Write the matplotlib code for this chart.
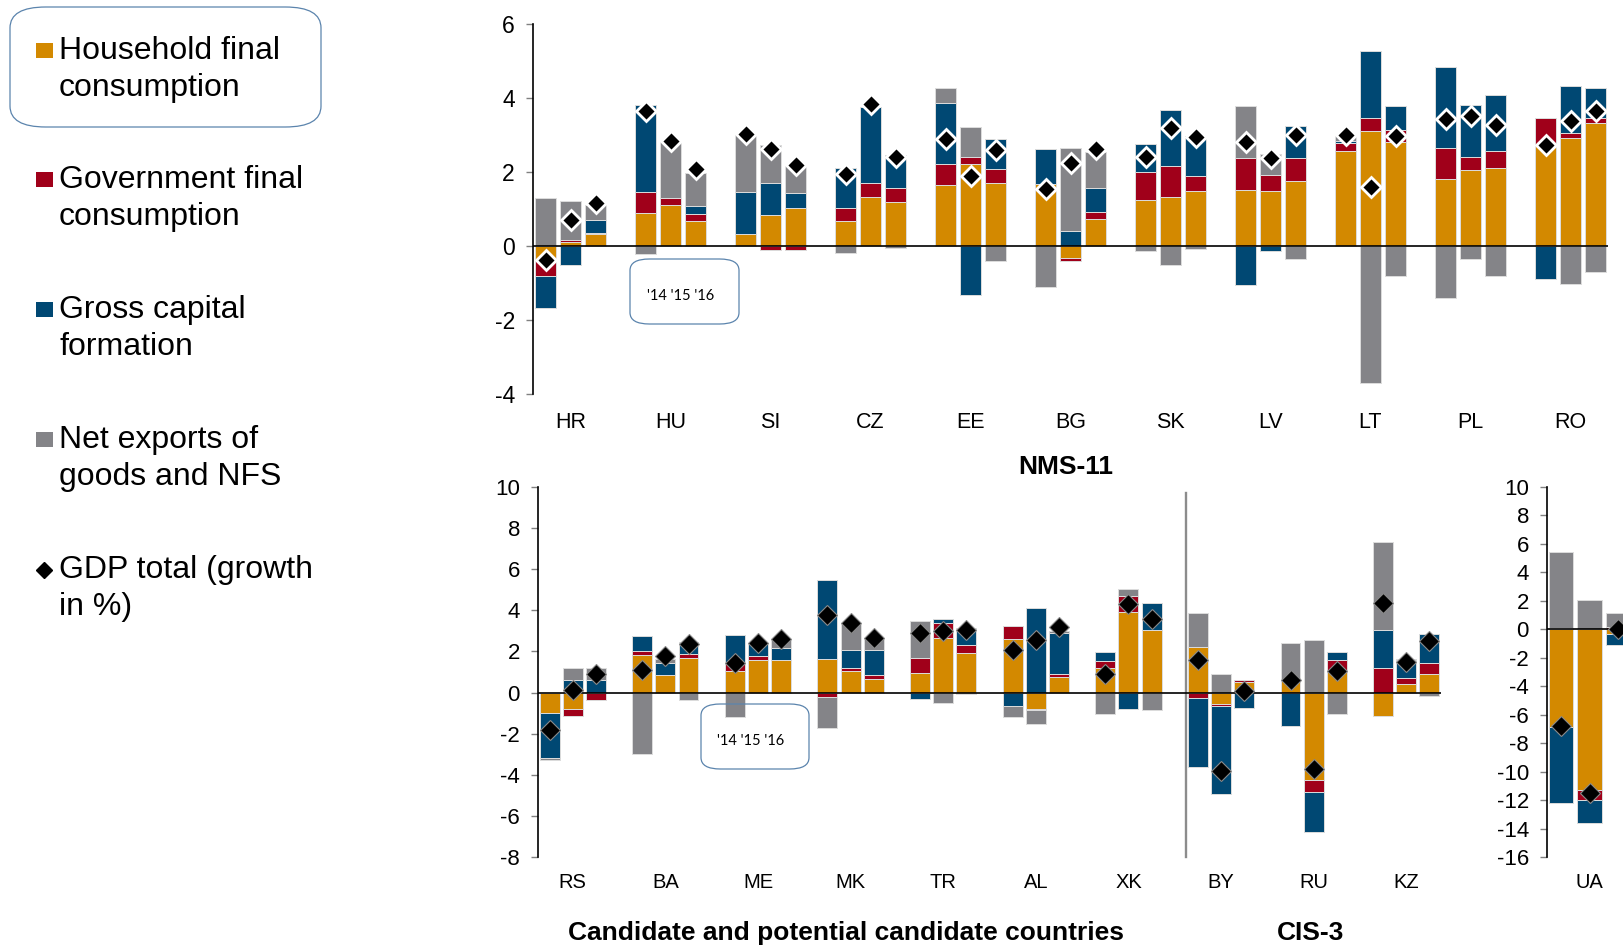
"""Contributions to GDP growth, 2014-2016: NMS-11, candidate countries and CIS-3."""

import matplotlib

matplotlib.use("Agg")
import matplotlib.pyplot as plt  # noqa: E402
import numpy as np  # noqa: E402
from matplotlib.lines import Line2D  # noqa: E402
from matplotlib.patches import FancyBboxPatch, Rectangle  # noqa: E402
from matplotlib.transforms import blended_transform_factory  # noqa: E402

plt.rcParams["font.family"] = ["Liberation Sans", "DejaVu Sans"]
plt.rcParams["axes.unicode_minus"] = False

W, H = 1623, 947

# ---- data: one [2014, 2015, 2016] triple per country ----
nms_countries = ["HR", "HU", "SI", "CZ", "EE", "BG", "SK", "LV", "LT", "PL", "RO"]
nms_household = [[-0.40, 0.11, 0.33], [0.89, 1.11, 0.67], [0.33, 0.83, 1.04], [0.68, 1.32, 1.19],
                 [1.65, 2.21, 1.71], [1.68, -0.32, 0.74], [1.23, 1.32, 1.49], [1.51, 1.48, 1.77],
                 [2.58, 3.12, 2.80], [1.80, 2.06, 2.12], [2.77, 2.92, 3.33]]
nms_government = [[-0.41, 0.05, 0.02], [0.57, 0.19, 0.20], [0.00, -0.11, -0.11], [0.35, 0.39, 0.38],
                  [0.57, 0.19, 0.38], [0.00, -0.08, 0.19], [0.77, 0.85, 0.41], [0.86, 0.43, 0.61],
                  [0.21, 0.33, 0.33], [0.86, 0.35, 0.46], [0.70, 0.13, 0.14]]
nms_capital = [[-0.87, -0.52, 0.36], [2.34, 0.00, 0.22], [1.12, 0.87, 0.39], [1.08, 2.04, 0.89],
               [1.64, -1.33, 0.80], [0.94, 0.41, 0.63], [0.77, 1.50, 1.06], [-1.06, -0.13, 0.87],
               [0.06, 1.83, 0.65], [2.17, 1.41, 1.50], [-0.88, 1.28, 0.81]]
nms_netexp = [[1.30, 1.06, 0.40], [-0.22, 1.52, 0.89], [1.57, 1.02, 0.77], [-0.20, 0.00, -0.05],
              [0.41, 0.81, -0.41], [-1.12, 2.24, 0.97], [-0.14, -0.51, -0.08], [1.41, 0.58, -0.34],
              [0.16, -3.71, -0.81], [-1.41, -0.36, -0.82], [0.00, -1.03, -0.69]]
nms_gdp = [[-0.38, 0.69, 1.15], [3.65, 2.84, 2.07], [3.02, 2.63, 2.18], [1.95, 3.84, 2.41],
           [2.90, 1.88, 2.59], [1.53, 2.24, 2.62], [2.40, 3.19, 2.95], [2.82, 2.39, 2.99],
           [3.01, 1.59, 2.96], [3.42, 3.51, 3.28], [2.74, 3.38, 3.66]]

cc_countries = ["RS", "BA", "ME", "MK", "TR", "AL", "XK", "BY", "RU", "KZ"]
cc_household = [[-1.00, -0.78, 0.00], [1.82, 0.83, 1.67], [1.07, 1.57, 1.57], [1.65, 1.05, 0.68],
                [0.97, 2.67, 1.94], [2.61, -0.79, 0.78], [1.18, 3.92, 3.05], [2.20, -0.55, 0.49],
                [0.62, -4.26, 1.00], [-1.13, 0.44, 0.92]]
cc_government = [[0.00, -0.34, -0.36], [0.18, 0.00, 0.23], [0.37, 0.19, 0.00], [-0.21, 0.13, 0.15],
                 [0.70, 0.71, 0.39], [0.65, -0.06, 0.11], [0.34, 0.76, 0.00], [-0.28, -0.11, 0.13],
                 [0.00, -0.58, 0.60], [1.18, 0.26, 0.50]]
cc_capital = [[-2.19, 0.60, 0.60], [0.73, 0.60, 0.58], [1.36, 0.60, 0.60], [3.84, 0.91, 1.23],
              [-0.31, 0.21, 0.81], [-0.63, 4.10, 2.01], [0.45, -0.79, 1.31], [-3.32, -4.26, -0.75],
              [-1.62, -1.96, 0.37], [1.88, 0.88, 1.41]]
cc_netexp = [[-0.10, 0.58, 0.58], [-2.97, 0.21, -0.36], [-1.17, 0.05, 0.44], [-1.52, 1.26, 0.58],
             [1.80, -0.50, -0.06], [-0.55, -0.66, 0.08], [-1.02, 0.36, -0.86], [1.67, 0.89, 0.00],
             [1.80, 2.58, -1.04], [4.25, 0.03, -0.18]]
cc_gdp = [[-1.82, 0.10, 0.88], [1.10, 1.80, 2.37], [1.46, 2.40, 2.61], [3.76, 3.37, 2.66],
          [2.90, 2.98, 3.06], [2.07, 2.56, 3.19], [0.88, 4.30, 3.58], [1.60, -3.82, 0.08],
          [0.60, -3.70, 1.04], [4.38, 1.49, 2.51]]

ua_countries = ["UA"]
ua_household = [[-6.84, -11.31, -0.35]]
ua_government = [[0.12, -0.66, 0.16]]
ua_capital = [[-5.39, -1.62, -0.75]]
ua_netexp = [[5.32, 2.08, 1.01]]
ua_gdp = [[-6.81, -11.50, 0.05]]

legend_labels = ["Household final\nconsumption", "Government final\nconsumption",
                 "Gross capital\nformation", "Net exports of\ngoods and NFS",
                 "GDP total (growth\nin %)"]
COLORS = ["#D38900", "#A0001A", "#004873", "#848488"]
BOX_EDGE = "#5B84AD"


def fx(px):
    return px / W


def fy(py):
    return 1 - py / H


def axes_at(fig, left, top, right, bottom):
    return fig.add_axes([fx(left), fy(bottom), (right - left) / W, (bottom - top) / H])


def slot_positions(n_groups):
    return np.array([g * 4 + k for g in range(n_groups) for k in range(3)], float)


def draw_panel(ax, comps, gdp, labels, width, d_edge, d_mew, d_ms, ylim, label_y, fs, tick_fs):
    n = len(labels)
    x = slot_positions(n)
    pos = np.zeros(len(x))
    neg = np.zeros(len(x))
    for vals, col in zip(comps, COLORS):
        v = np.ravel(vals).astype(float)
        bottom = np.where(v >= 0, pos, neg)
        ax.bar(x, v, width, bottom=bottom, color=col, edgecolor="#dcdcdc",
               linewidth=0.7, zorder=2)
        pos += np.clip(v, 0, None)
        neg += np.clip(v, None, 0)
    ax.axhline(0, color="black", lw=1.2, zorder=3)
    ax.plot(x, np.ravel(gdp), "D", ms=d_ms, mfc="black", mec=d_edge, mew=d_mew,
            ls="none", zorder=4, clip_on=False)
    ax.set_xlim(-0.5, x[-1] + 0.5)
    ax.set_ylim(*ylim)
    for s in ("top", "right", "bottom"):
        ax.spines[s].set_visible(False)
    ax.spines["left"].set_linewidth(1.2)
    ax.set_xticks([])
    ax.tick_params(axis="y", length=5, width=1, color="#808080", pad=8, labelsize=tick_fs)
    ax.patch.set_alpha(0)
    tr = blended_transform_factory(ax.transData, ax.transAxes)
    for i, lab in enumerate(labels):
        ax.text(i * 4 + 1, label_y, lab, transform=tr, ha="center", va="center", fontsize=fs)


fig = plt.figure(figsize=(W / 100, H / 100), dpi=100)

# top panel: NMS-11
ax_t = axes_at(fig, 533, 24, 1608, 394)
draw_panel(ax_t, [nms_household, nms_government, nms_capital, nms_netexp], nms_gdp,
           nms_countries, 0.84, "white", 2.0, 10.5, (-4, 6), -(422 - 394) / 370, 15.5, 16.5)
ax_t.set_yticks(np.arange(-4, 7, 2))

# bottom panel: candidate countries and CIS
ax_b = axes_at(fig, 538, 487, 1441, 857)
draw_panel(ax_b, [cc_household, cc_government, cc_capital, cc_netexp], cc_gdp,
           cc_countries, 0.86, "#8a8a8a", 0.8, 10.5, (-8, 10), -(882 - 857) / 370, 14.5, 16)
ax_b.set_yticks(np.arange(-8, 11, 2))
ax_b.plot([27.5, 27.5], [-8, 9.7], color="#8c8c8c", lw=1.7, zorder=1, clip_on=False)

# UA panel (runs past the right edge, as in the source)
ax_u = axes_at(fig, 1547, 487, 1632, 857)
draw_panel(ax_u, [ua_household, ua_government, ua_capital, ua_netexp], ua_gdp,
           ua_countries, 0.85, "#8a8a8a", 0.8, 10.5, (-16, 10), -(882 - 857) / 370, 14.5, 16)
ax_u.set_yticks(np.arange(-16, 11, 2))

# group titles
fig.text(fx(1066), fy(467), "NMS-11", ha="center", va="center", fontsize=19, weight="bold")
fig.text(fx(846), fy(933), "Candidate and potential candidate countries",
         ha="center", va="center", fontsize=19, weight="bold")
fig.text(fx(1311), fy(933), "CIS-3", ha="center", va="center", fontsize=19, weight="bold")

# year keys
for (l, t, r, b), (tx, ty) in [((630, 259, 739, 324), (681, 296)),
                                ((701, 704, 809, 769), (751, 741))]:
    fig.add_artist(FancyBboxPatch((fx(l), fy(b)), (r - l) / W, (b - t) / H,
                                  boxstyle="round,pad=0,rounding_size=0.012",
                                  transform=fig.transFigure, fc="none", ec=BOX_EDGE, lw=0.9))
    fig.text(fx(tx), fy(ty), "'14 '15 '16", ha="center", va="center", fontsize=10.5,
             family=["Lato", "DejaVu Sans"])

# legend
fig.add_artist(FancyBboxPatch((fx(10), fy(127)), 311 / W, 120 / H,
                              boxstyle="round,pad=0,rounding_size=0.022",
                              transform=fig.transFigure, fc="none", ec=BOX_EDGE, lw=0.9))
line1 = [51, 180, 310, 440, 570]
for i, (lab, yc) in enumerate(zip(legend_labels, line1)):
    if i < 4:
        fig.add_artist(Rectangle((fx(36), fy(yc + 7)), 17 / W, 15 / H,
                                 transform=fig.transFigure, color=COLORS[i], lw=0))
    else:
        fig.add_artist(Line2D([fx(44)], [fy(yc)], marker="D", ms=8.5, mfc="black",
                              mec="black", transform=fig.transFigure))
    first, second = lab.split("\n")
    fig.text(fx(59), fy(yc), first, ha="left", va="center", fontsize=23)
    fig.text(fx(59), fy(yc + 37), second, ha="left", va="center", fontsize=23)

fig.savefig("out.png", dpi=100)
